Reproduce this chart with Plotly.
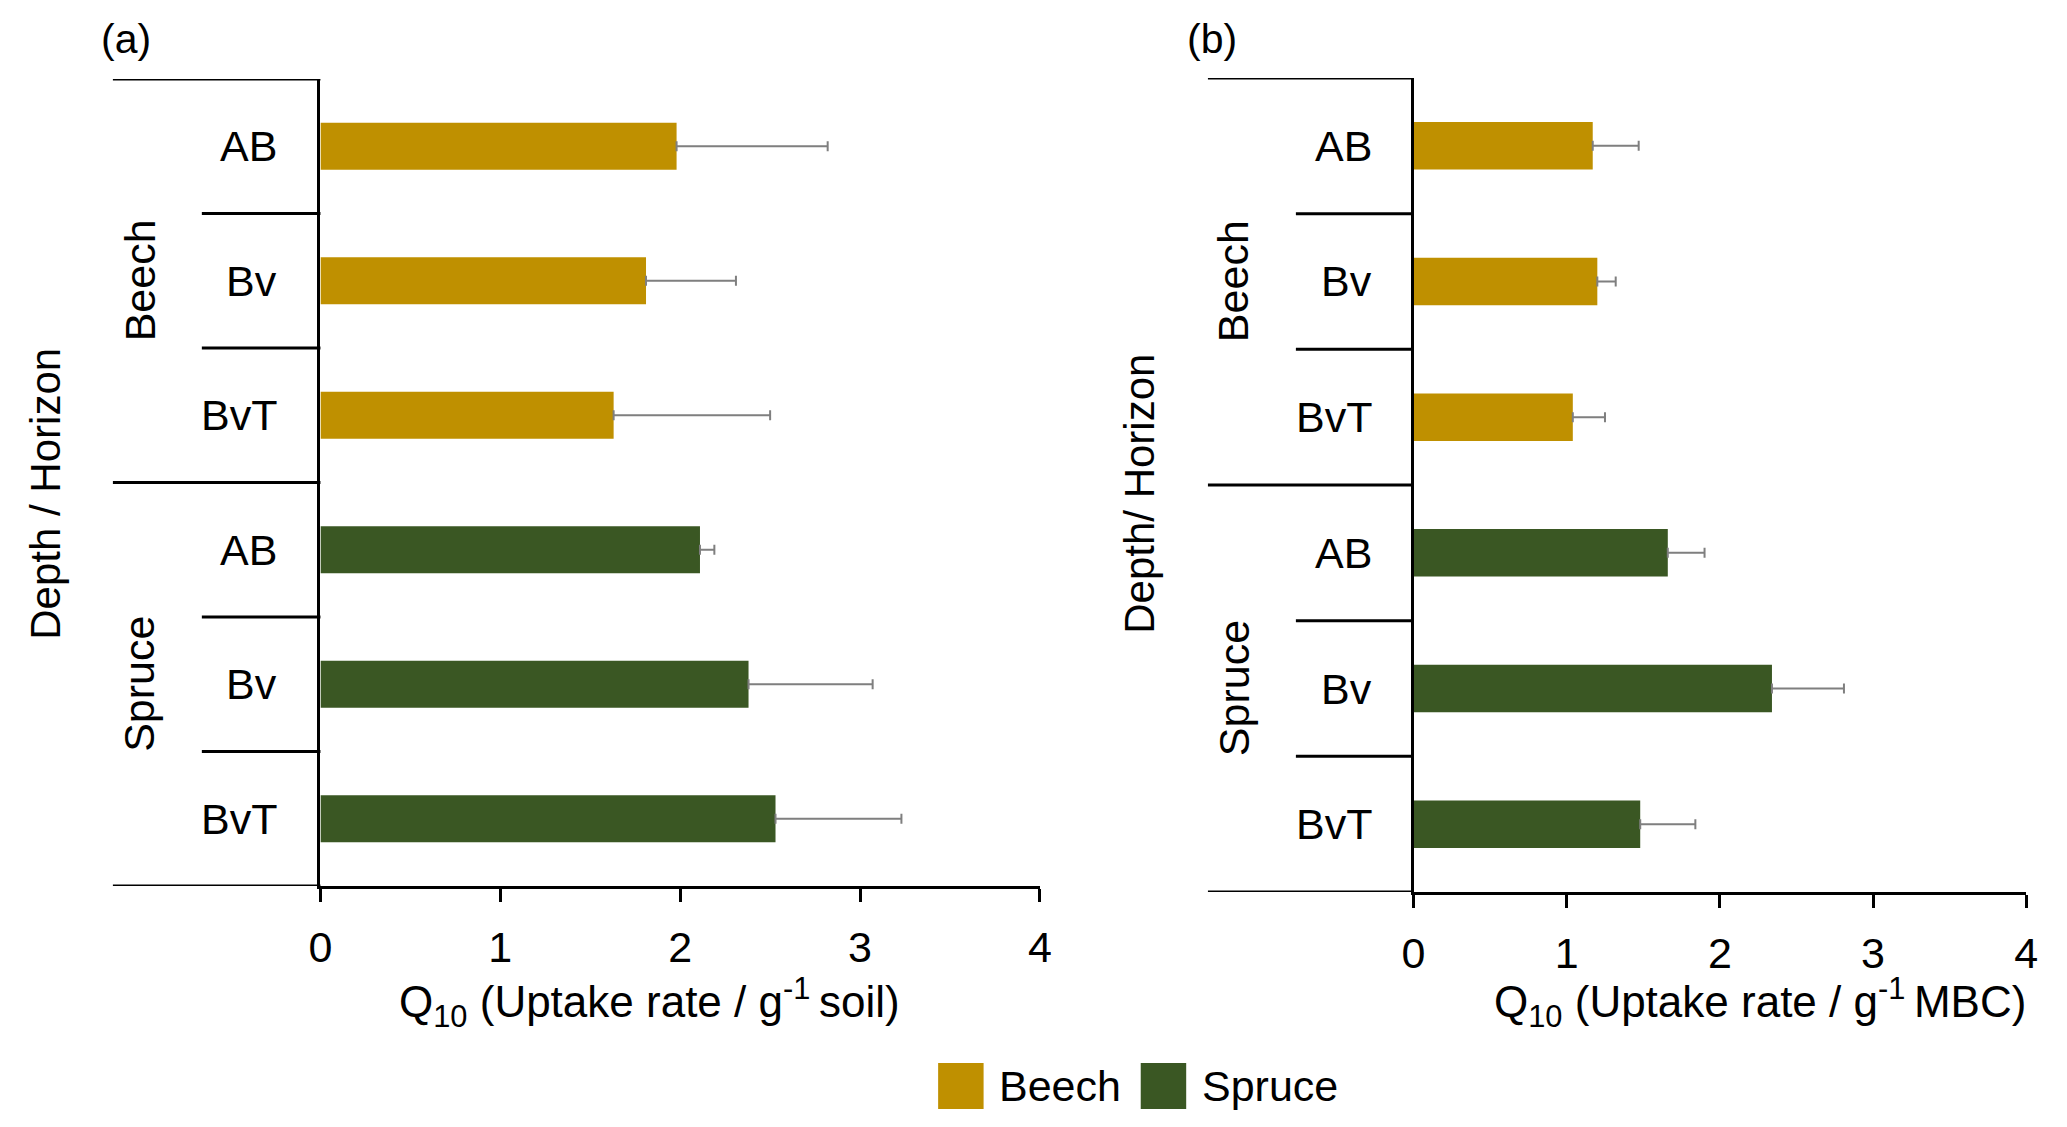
import plotly.graph_objs as go

# Data
trees = ['Beech', 'Spruce']
horizons = ['AB', 'Bv', 'BvT']

# (a) Q10 uptake rate per g soil
soil_beech = [1.98, 1.81, 1.63]
soil_beech_err = [0.84, 0.50, 0.87]
soil_spruce = [2.11, 2.38, 2.53]
soil_spruce_err = [0.08, 0.69, 0.70]

# (b) Q10 uptake rate per g MBC
mbc_beech = [1.17, 1.20, 1.04]
mbc_beech_err = [0.30, 0.12, 0.21]
mbc_spruce = [1.66, 2.34, 1.48]
mbc_spruce_err = [0.24, 0.47, 0.36]

x_ticks = [0, 1, 2, 3, 4]

BEECH_COL = '#BF9000'
SPRUCE_COL = '#3A5723'
ERR_COL = '#7F7F7F'
FONT = 'Liberation Sans, Arial, sans-serif'

# page body has an 8px margin, so the figure is made smaller to fit the window
OFF = 8
W, H = 2067 - 2 * OFF, 1127 - 2 * OFF


def px_x(px):
    return (px - OFF) / W


def px_y(py):
    return 1 - (py - OFF) / H


pos_beech = [i for i in range(len(horizons))]
pos_spruce = [i + len(horizons) for i in range(len(horizons))]


def bar(x, err, pos, color, xa, ya):
    return go.Bar(x=x, y=pos, orientation='h', width=0.35,
                  marker=dict(color=color, line=dict(width=0)),
                  error_x=dict(type='data', array=err, symmetric=False,
                               arrayminus=[0] * len(err), color=ERR_COL,
                               thickness=2, width=5),
                  xaxis=xa, yaxis=ya, showlegend=False, hoverinfo='x')


traces = [
    bar(soil_beech, soil_beech_err, pos_beech, BEECH_COL, 'x', 'y'),
    bar(soil_spruce, soil_spruce_err, pos_spruce, SPRUCE_COL, 'x', 'y'),
    bar(mbc_beech, mbc_beech_err, pos_beech, BEECH_COL, 'x2', 'y2'),
    bar(mbc_spruce, mbc_spruce_err, pos_spruce, SPRUCE_COL, 'x2', 'y2'),
]

# panel geometry in screen pixels
panels = [
    dict(xa='x', ya='y', x0=312, x1=1040, top=79, bottom=886,
         far_left=102, short_left=192, lab_right=270, grp_x=129, ttl_x=33,
         ytitle='Depth / Horizon', tag='(a)', tag_x=115,
         xtitle='Q<sub>10</sub> (Uptake rate / g<sup>-1 </sup>soil)', xt_x=645),
    dict(xa='x2', ya='y2', x0=1418, x1=2038, top=78, bottom=892,
         far_left=1210, short_left=1299, lab_right=1378, grp_x=1236, ttl_x=1140,
         ytitle='Depth/ Horizon', tag='(b)', tag_x=1214,
         xtitle='Q<sub>10</sub> (Uptake rate / g<sup>-1 </sup>MBC)', xt_x=1769),
]

n_cat = len(horizons) * len(trees)
axis_font = dict(family=FONT, size=43, color='black')

layout = go.Layout(
    width=W, height=H, margin=dict(l=0, r=0, t=0, b=0),
    plot_bgcolor='white', paper_bgcolor='white',
    barmode='overlay', showlegend=False,
    font=dict(family=FONT, size=42, color='black'),
)

shapes = []
annotations = []
for i, p in enumerate(panels):
    sfx = '' if i == 0 else '2'
    span = p['x1'] - p['x0']

    def dom(px):
        return (px - p['x0']) / span

    layout['xaxis' + sfx] = dict(
        domain=[px_x(p['x0']), px_x(p['x1'])], range=[0, 4], anchor=p['ya'],
        tickvals=x_ticks, ticks='outside', ticklen=13, tickwidth=3,
        tickcolor='black', showline=True, linewidth=3, linecolor='black',
        showgrid=False, zeroline=False, tickfont=axis_font,
        ticklabelstandoff=8)
    layout['yaxis' + sfx] = dict(
        domain=[px_y(p['bottom']), px_y(p['top'])],
        range=[n_cat - 0.5, -0.5], anchor=p['xa'],
        showline=True, linewidth=3, linecolor='black',
        showticklabels=False, ticks='', showgrid=False, zeroline=False)

    xd = p['xa'] + ' domain'
    line = dict(color='black', width=3)
    # top, group divider and bottom lines
    for yb in [-0.5, len(horizons) - 0.5, n_cat - 0.5]:
        shapes.append(dict(type='line', xref=xd, yref=p['ya'],
                           x0=dom(p['far_left']), x1=0, y0=yb, y1=yb, line=line))
    # short dividers between horizons
    for k in range(1, n_cat):
        if k % len(horizons) == 0:
            continue
        shapes.append(dict(type='line', xref=xd, yref=p['ya'],
                           x0=dom(p['short_left']), x1=0, y0=k - 0.5, y1=k - 0.5,
                           line=line))

    # horizon labels
    for k in range(n_cat):
        annotations.append(dict(text=horizons[k % len(horizons)], xref=xd,
                                yref=p['ya'], x=dom(p['lab_right']), y=k,
                                xanchor='right', yanchor='middle',
                                showarrow=False, font=axis_font))
    # tree group labels
    for g, tree in enumerate(trees):
        annotations.append(dict(text=tree, xref=xd, yref=p['ya'],
                                x=dom(p['grp_x']),
                                y=g * len(horizons) + (len(horizons) - 1) / 2,
                                xanchor='center', yanchor='middle', textangle=-90,
                                showarrow=False, font=axis_font))
    # y title
    annotations.append(dict(text=p['ytitle'], xref='paper', yref='paper',
                            x=px_x(p['ttl_x']), y=px_y(494), xanchor='center',
                            yanchor='middle', textangle=-90, showarrow=False,
                            font=dict(family=FONT, size=42, color='black')))
    # x title
    annotations.append(dict(text=p['xtitle'], xref='paper', yref='paper',
                            x=px_x(p['xt_x']), y=px_y(1002), xanchor='center',
                            yanchor='middle', showarrow=False,
                            font=dict(family=FONT, size=44, color='black')))
    # panel tag
    annotations.append(dict(text=p['tag'], xref='paper', yref='paper',
                            x=px_x(p['tag_x']), y=px_y(39), xanchor='center',
                            yanchor='middle', showarrow=False,
                            font=dict(family=FONT, size=41, color='black')))

# manual legend
legend_items = [(trees[0], BEECH_COL, 937), (trees[1], SPRUCE_COL, 1142)]
for name, col, lx in legend_items:
    shapes.append(dict(type='rect', xref='paper', yref='paper',
                       x0=px_x(lx), x1=px_x(lx + 46), y0=px_y(1109), y1=px_y(1063),
                       fillcolor=col, line=dict(width=0)))
    annotations.append(dict(text=name, xref='paper', yref='paper',
                            x=px_x(lx + 60), y=px_y(1086), xanchor='left',
                            yanchor='middle', showarrow=False, font=axis_font))

layout['shapes'] = shapes
layout['annotations'] = annotations

fig = go.Figure(data=traces, layout=layout)
fig.write_html('out.html')
